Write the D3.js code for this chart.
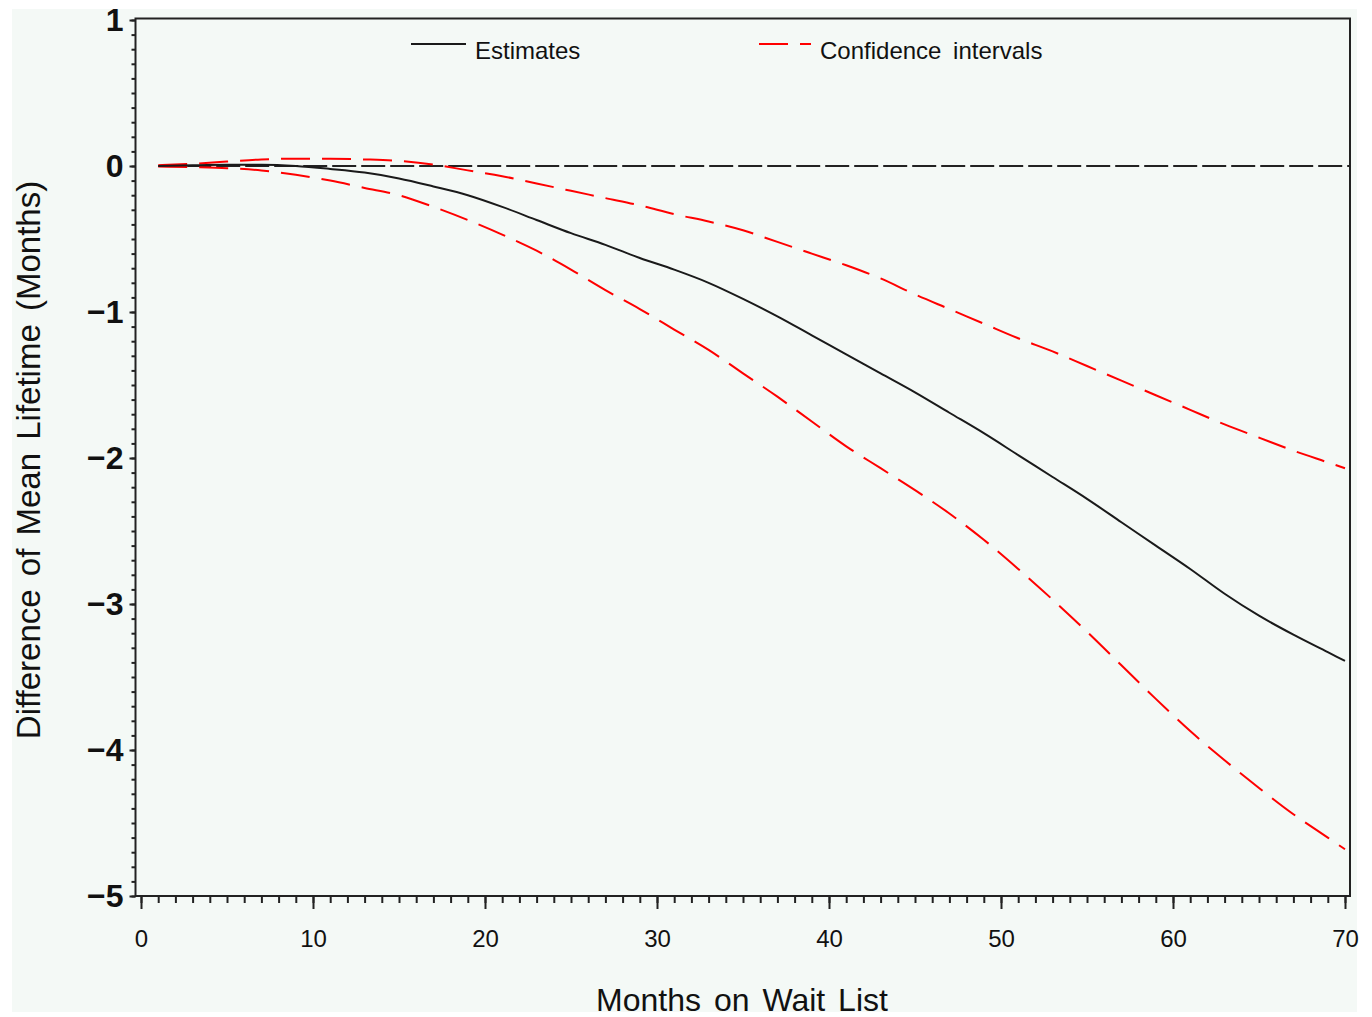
<!DOCTYPE html>
<html>
<head>
<meta charset="utf-8">
<script src="https://cdn.jsdelivr.net/npm/d3@7"></script>
<style>
  body { margin: 0; background: #fff; }
  svg { display: block; }
  text { font-family: "Liberation Sans", Arial, sans-serif; fill: #111; }
</style>
</head>
<body>
<svg id="chart" width="1372" height="1017"></svg>
<script>
var months = [1,3,5,7,9,11,13,15,17,19,21,23,25,27,29,31,33,35,37,39,41,43,45,47,49,51,53,55,57,59,61,63,65,67,69,70]

// difference of mean lifetime (months)
var estimates = [0,0.005,0.008,0.008,0,-0.02,-0.045,-0.085,-0.14,-0.2,-0.28,-0.37,-0.46,-0.54,-0.63,-0.71,-0.8,-0.91,-1.03,-1.16,-1.29,-1.42,-1.55,-1.69,-1.83,-1.98,-2.13,-2.28,-2.44,-2.6,-2.76,-2.93,-3.08,-3.21,-3.33,-3.39]
var upperCI = [0.005,0.015,0.03,0.045,0.05,0.05,0.045,0.035,0.01,-0.03,-0.07,-0.12,-0.17,-0.22,-0.27,-0.33,-0.38,-0.44,-0.52,-0.6,-0.68,-0.77,-0.88,-0.98,-1.08,-1.18,-1.27,-1.37,-1.47,-1.57,-1.67,-1.77,-1.86,-1.95,-2.03,-2.07]
var lowerCI = [-0.003,-0.008,-0.015,-0.03,-0.06,-0.1,-0.15,-0.2,-0.28,-0.37,-0.47,-0.58,-0.71,-0.85,-0.98,-1.12,-1.26,-1.42,-1.58,-1.75,-1.92,-2.07,-2.22,-2.38,-2.56,-2.76,-2.97,-3.19,-3.42,-3.65,-3.87,-4.07,-4.26,-4.44,-4.6,-4.68]

var xTicks = [0,10,20,30,40,50,60,70]
var yTicks = [1,0,-1,-2,-3,-4,-5]
var legendLabels = ["Estimates", "Confidence intervals"]

var svg = d3.select("#chart")

// light background panel with a thin white margin
svg.append("rect")
   .attr("x", 12).attr("y", 9)
   .attr("width", 1345).attr("height", 1003)
   .attr("fill", "#f4f9f6")

var x = d3.scaleLinear().domain([0, 70]).range([141, 1345])
var y = d3.scaleLinear().domain([-5, 1]).range([896, 20])

var plotLeft = 135.5, plotRight = 1350, plotTop = 18.5, plotBottom = 896

// frame
svg.append("path")
   .attr("d", "M" + plotLeft + "," + plotBottom + "V" + plotTop + "H" + plotRight + "V" + plotBottom + "Z")
   .attr("fill", "none")
   .attr("stroke", "#222")
   .attr("stroke-width", 2)

// x axis: major + minor ticks
var minorX = d3.range(0, 71, 1)
var gxMinor = svg.append("g").attr("transform", "translate(0," + plotBottom + ")")
    .call(d3.axisBottom(x).tickValues(minorX).tickSize(7).tickFormat(""))
var gx = svg.append("g").attr("transform", "translate(0," + plotBottom + ")")
    .call(d3.axisBottom(x).tickValues(xTicks).tickSize(13).tickPadding(21).tickFormat(d3.format("d")))
;[gx, gxMinor].forEach(function(g){
    g.select(".domain").remove()
    g.selectAll("line").attr("stroke", "#222").attr("stroke-width", 2)
})
gx.selectAll("text")
  .style("font-size", "24px")
  .style("font-family", "'Liberation Sans', Arial, sans-serif")
  .attr("fill", "#111")

// y axis: major + minor ticks
var minorY = d3.range(-50, 11, 1).map(function(d){ return d / 10 })
var gyMinor = svg.append("g").attr("transform", "translate(" + plotLeft + ",0)")
    .call(d3.axisLeft(y).tickValues(minorY).tickSize(4).tickFormat(""))
var gy = svg.append("g").attr("transform", "translate(" + plotLeft + ",0)")
    .call(d3.axisLeft(y).tickValues(yTicks).tickSize(6).tickPadding(6).tickFormat(d3.format("d")))
;[gy, gyMinor].forEach(function(g){
    g.select(".domain").remove()
    g.selectAll("line").attr("stroke", "#222").attr("stroke-width", 2)
})
gy.selectAll("text")
  .style("font-size", "32px")
  .style("font-weight", "bold")
  .style("font-family", "'Liberation Sans', Arial, sans-serif")
  .attr("fill", "#111")

// reference line at zero
svg.append("line")
   .attr("x1", x(1)).attr("x2", plotRight)
   .attr("y1", y(0)).attr("y2", y(0))
   .attr("stroke", "#222")
   .attr("stroke-width", 2)
   .attr("stroke-dasharray", "24,5")

var line = d3.line()
    .x(function(d){ return x(d[0]) })
    .y(function(d){ return y(d[1]) })
    .curve(d3.curveMonotoneX)

function pairs(vals){ return months.map(function(m, i){ return [m, vals[i]] }) }

svg.append("path")
   .datum(pairs(upperCI))
   .attr("d", line)
   .attr("fill", "none")
   .attr("stroke", "#ff0000")
   .attr("stroke-width", 2)
   .attr("stroke-dasharray", "29,12")

svg.append("path")
   .datum(pairs(lowerCI))
   .attr("d", line)
   .attr("fill", "none")
   .attr("stroke", "#ff0000")
   .attr("stroke-width", 2)
   .attr("stroke-dasharray", "29,12")

svg.append("path")
   .datum(pairs(estimates))
   .attr("d", line)
   .attr("fill", "none")
   .attr("stroke", "#1a1a1a")
   .attr("stroke-width", 2)

// legend
var lg = svg.append("g").attr("class", "legend")
lg.append("line").attr("x1", 411).attr("x2", 466).attr("y1", 44).attr("y2", 44)
  .attr("stroke", "#1a1a1a").attr("stroke-width", 2)
lg.append("text").attr("x", 475).attr("y", 59).style("font-size", "24px").text(legendLabels[0])
lg.append("line").attr("x1", 759).attr("x2", 811).attr("y1", 44).attr("y2", 44)
  .attr("stroke", "#ff0000").attr("stroke-width", 2).attr("stroke-dasharray", "29,12")
lg.append("text").attr("x", 820).attr("y", 59).style("font-size", "24px")
  .style("word-spacing", "5px").text(legendLabels[1])

// axis titles
svg.append("text")
   .attr("x", 742).attr("y", 1011)
   .attr("text-anchor", "middle")
   .style("font-size", "32px")
   .style("word-spacing", "4px")
   .text("Months on Wait List")

svg.append("text")
   .attr("transform", "translate(40,460) rotate(-90)")
   .attr("text-anchor", "middle")
   .style("font-size", "33px")
   .style("word-spacing", "4px")
   .text("Difference of Mean Lifetime (Months)")
</script>
</body>
</html>
